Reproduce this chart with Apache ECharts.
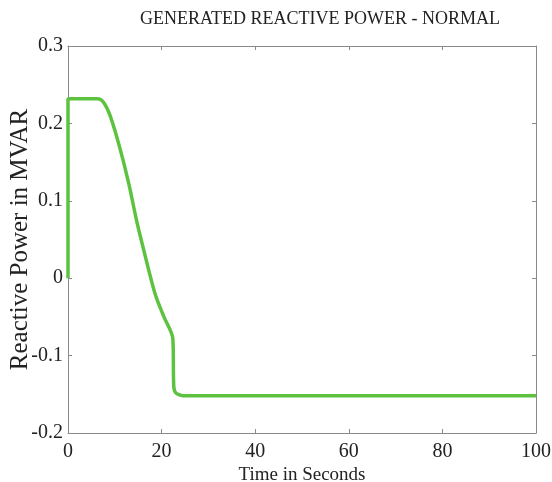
<!DOCTYPE html>
<html>
<head>
<meta charset="utf-8">
<script src="https://cdn.jsdelivr.net/npm/echarts@6/dist/echarts.min.js"></script>
<style>html,body{margin:0;padding:0;background:#fff;}#c{width:552px;height:482px;}</style>
</head>
<body>
<div id="c"></div>
<script>
var titleText = 'GENERATED REACTIVE POWER - NORMAL';
var xName = 'Time in Seconds';
var yName = 'Reactive Power in MVAR';
var timeValues = [0, 0, 6.3, 7.5, 9, 11, 13, 14.6, 16.2, 18.6, 20.5, 22.4, 22.6, 23, 24, 25, 100];
var powerValues = [0, 0.232, 0.232, 0.228, 0.21, 0.17, 0.122, 0.076, 0.036, -0.02, -0.05, -0.078, -0.14, -0.148, -0.151, -0.152, -0.152];
var xTicks = [0, 20, 40, 60, 80, 100];
var yTicks = [-0.2, -0.1, 0, 0.1, 0.2, 0.3];

var data = timeValues.map(function (t, i) { return [t, powerValues[i]]; });
var font = 'Liberation Serif';
var axisColor = '#8a8a8a';

var chart = echarts.init(document.getElementById('c'), null, {renderer: 'canvas'});
chart.setOption({
  animation: false,
  backgroundColor: '#fff',
  title: {
    text: titleText,
    left: 135,
    top: 5,
    textStyle: {fontFamily: font, fontSize: 18, fontWeight: 'normal', color: '#222'}
  },
  grid: {left: 68, right: 16, top: 46, bottom: 49, containLabel: false, outerBoundsMode: 'none'},
  xAxis: [{
    type: 'value',
    min: xTicks[0], max: xTicks[xTicks.length - 1], interval: 20,
    name: xName, nameLocation: 'middle', nameGap: 33, nameMoveOverlap: false,
    nameTextStyle: {fontFamily: font, fontSize: 19, color: '#222'},
    axisLine: {show: true, onZero: false, lineStyle: {color: axisColor, width: 1}},
    axisTick: {show: true, inside: true, length: 4, lineStyle: {color: axisColor}},
    axisLabel: {fontFamily: font, fontSize: 20, color: '#222', margin: 9,
      formatter: function (v) { return xTicks.indexOf(v) >= 0 ? String(v) : ''; }},
    splitLine: {show: false}
  }, {
    type: 'value', position: 'top',
    min: xTicks[0], max: xTicks[xTicks.length - 1], interval: 20,
    axisLine: {show: true, onZero: false, lineStyle: {color: axisColor, width: 1}},
    axisTick: {show: true, inside: true, length: 4, lineStyle: {color: axisColor}},
    axisLabel: {show: false}, splitLine: {show: false}
  }],
  yAxis: [{
    type: 'value',
    min: yTicks[0], max: yTicks[yTicks.length - 1], interval: 0.1,
    name: yName, nameLocation: 'middle', nameGap: 35, nameRotate: 90, nameMoveOverlap: false,
    nameTextStyle: {fontFamily: font, fontSize: 25, color: '#222'},
    axisLine: {show: true, onZero: false, lineStyle: {color: axisColor, width: 1}},
    axisTick: {show: true, inside: true, length: 4, lineStyle: {color: axisColor}},
    axisLabel: {fontFamily: font, fontSize: 20, color: '#222', margin: 5,
      formatter: function (v) { var r = Math.round(v * 10) / 10; return r === 0 ? '0' : r.toFixed(1); }},
    splitLine: {show: false}
  }, {
    type: 'value', position: 'right',
    min: yTicks[0], max: yTicks[yTicks.length - 1], interval: 0.1,
    axisLine: {show: true, onZero: false, lineStyle: {color: axisColor, width: 1}},
    axisTick: {show: true, inside: true, length: 4, lineStyle: {color: axisColor}},
    axisLabel: {show: false}, splitLine: {show: false}
  }],
  series: [{
    type: 'line',
    data: data,
    xAxisIndex: 0, yAxisIndex: 0,
    showSymbol: false,
    smooth: 0.3,
    lineStyle: {color: '#5cc23f', width: 3.5},
    itemStyle: {color: '#5cc23f'}
  }]
});
</script>
</body>
</html>
